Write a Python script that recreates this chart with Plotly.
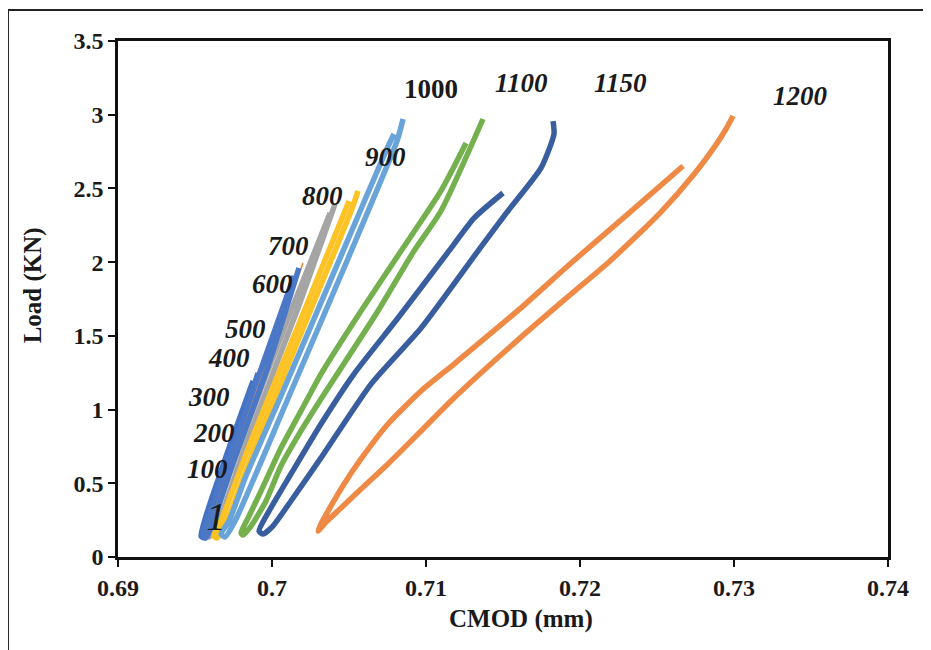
import plotly.graph_objects as go

# ---- data ----
# each loop: unloading (inner) branch from its top end down to the tip, then loading (outer) branch up to the peak
blue_short_x = [0.69877, 0.69669, 0.69539, 0.69565, 0.69708, 0.69909]
blue_short_y = [1.194, 0.583, 0.142, 0.129, 0.583, 1.248]

orange_thin_x = [0.69565, 0.69877, 0.70201]
orange_thin_y = [0.142, 1.058, 1.994]

blue_x = [0.70143, 0.69929, 0.69701, 0.69591, 0.69552, 0.69571, 0.69630, 0.69740, 0.69968, 0.70175]
blue_y = [1.906, 1.275, 0.617, 0.278, 0.156, 0.129, 0.278, 0.617, 1.275, 1.960]

gray_x = [0.70377, 0.70123, 0.69799, 0.69617, 0.69571, 0.69591, 0.69656, 0.69838, 0.70162, 0.70409]
gray_y = [2.333, 1.669, 0.787, 0.244, 0.156, 0.136, 0.244, 0.787, 1.669, 2.394]

yellow_x = [0.70500, 0.70188, 0.69864, 0.69682, 0.69623, 0.69643, 0.69721, 0.69903, 0.70227, 0.70526, 0.70558]
yellow_y = [2.415, 1.614, 0.787, 0.278, 0.142, 0.129, 0.278, 0.787, 1.614, 2.381, 2.483]

lblue_x = [0.70792, 0.70740, 0.70448, 0.70058, 0.69831, 0.69721, 0.69669, 0.69695, 0.69760, 0.70097, 0.70487, 0.70812, 0.70851]
lblue_y = [2.869, 2.754, 2.042, 1.092, 0.549, 0.244, 0.156, 0.136, 0.244, 1.058, 2.008, 2.822, 2.971]

green_x = [0.71260, 0.71097, 0.70838, 0.70578, 0.70318, 0.70188, 0.70058, 0.69929, 0.69851, 0.69799,
           0.69812, 0.69864, 0.69961, 0.70058, 0.70188, 0.70318, 0.70688, 0.70922, 0.71097, 0.71370]
green_y = [2.808, 2.483, 2.076, 1.669, 1.241, 0.990, 0.739, 0.448, 0.278, 0.163,
           0.149, 0.210, 0.380, 0.617, 0.855, 1.072, 1.669, 2.076, 2.347, 2.971]

dblue_x = [0.71500, 0.71312, 0.71149, 0.70818, 0.70532, 0.70318, 0.70123, 0.69981, 0.69916,
           0.69942, 0.70006, 0.70123, 0.70318, 0.70643, 0.70968, 0.71338, 0.71532, 0.71747, 0.71831, 0.71825]
dblue_y = [2.469, 2.299, 2.076, 1.621, 1.241, 0.902, 0.563, 0.312, 0.176,
           0.156, 0.210, 0.380, 0.672, 1.173, 1.553, 2.076, 2.347, 2.639, 2.869, 2.957]

orange_x = [0.72669, 0.72312, 0.71942, 0.71630, 0.71182, 0.70968, 0.70753, 0.70578, 0.70468, 0.70383, 0.70318, 0.70299,
            0.70351, 0.70448, 0.70578, 0.70753, 0.70968, 0.71175, 0.71610, 0.71935, 0.72195, 0.72519, 0.72747, 0.72877, 0.72948, 0.72994]
orange_y = [2.652, 2.327, 1.994, 1.702, 1.309, 1.126, 0.902, 0.665, 0.495, 0.346, 0.224, 0.176,
            0.237, 0.332, 0.461, 0.631, 0.855, 1.072, 1.485, 1.777, 2.008, 2.333, 2.605, 2.787, 2.903, 2.991]

cycle_labels = ["1", "100", "200", "300", "400", "500", "600", "700", "800", "900", "1000", "1100", "1150", "1200"]
label_x = [0.69636, 0.69578, 0.69623, 0.69591, 0.69721, 0.69831, 0.70006, 0.70110, 0.70331, 0.70734, 0.71032, 0.71617, 0.72266, 0.73435]
label_y = [0.278, 0.597, 0.841, 1.085, 1.350, 1.547, 1.852, 2.109, 2.449, 2.713, 3.174, 3.215, 3.215, 3.127]

x_ticks = [0.69, 0.7, 0.71, 0.72, 0.73, 0.74]
x_tick_text = ["0.69", "0.7", "0.71", "0.72", "0.73", "0.74"]
y_ticks = [0, 0.5, 1, 1.5, 2, 2.5, 3, 3.5]
y_tick_text = ["0", "0.5", "1", "1.5", "2", "2.5", "3", "3.5"]

series = [
    (blue_short_x, blue_short_y, "#4472C4", 5.5),
    (orange_thin_x, orange_thin_y, "#ED7D31", 1.5),
    (gray_x, gray_y, "#A5A5A5", 5.5),
    (blue_x, blue_y, "#4A77C6", 5.5),
    (yellow_x, yellow_y, "#FDC324", 5.5),
    (lblue_x, lblue_y, "#68A3D9", 5.5),
    (green_x, green_y, "#74B04E", 5.5),
    (dblue_x, dblue_y, "#395E9F", 5.5),
    (orange_x, orange_y, "#EE8A45", 5.5),
]

SERIF = "Liberation Serif, Times New Roman, serif"

fig = go.Figure()
for xs, ys, col, w in series:
    fig.add_trace(go.Scatter(x=xs, y=ys, mode="lines",
                             line=dict(color=col, width=w, shape="spline", smoothing=0.6),
                             hoverinfo="skip", showlegend=False))

for t, lx, ly in zip(cycle_labels, label_x, label_y):
    if t == "1":
        txt = "<i>1</i>"
        size = 40
    elif t == "1000":
        txt = "<b>1000</b>"
        size = 27
    else:
        txt = "<b><i>%s</i></b>" % t
        size = 27
    fig.add_annotation(x=lx, y=ly, xref="x", yref="y", text=txt, showarrow=False,
                       font=dict(family=SERIF, size=size, color="#1a1a1a"),
                       xanchor="center", yanchor="middle")

# axis titles
fig.add_annotation(x=0.523, y=-0.12, xref="paper", yref="paper", text="<b>CMOD (mm)</b>",
                   showarrow=False, font=dict(family=SERIF, size=25, color="#1a1a1a"),
                   xanchor="center", yanchor="middle")
fig.add_annotation(x=-0.110, y=0.527, xref="paper", yref="paper", text="<b>Load (KN)</b>",
                   showarrow=False, textangle=-90, font=dict(family=SERIF, size=25, color="#1a1a1a"),
                   xanchor="center", yanchor="middle")

# outer frame (left and top edges)
fig.add_shape(type="line", xref="paper", yref="paper", x0=-0.1429, x1=-0.1429, y0=1.060, y1=-0.25,
              line=dict(color="#222", width=2))
fig.add_shape(type="line", xref="paper", yref="paper", x0=-0.1429, x1=1.08, y0=1.060, y1=1.060,
              line=dict(color="#222", width=2))

axis_common = dict(showgrid=False, zeroline=False, showline=True, linecolor="#111", linewidth=2.5,
                   mirror=True, ticks="outside", ticklen=7, tickwidth=2, tickcolor="#111",
                   tickfont=dict(family=SERIF, size=24, color="#1a1a1a"))

fig.update_xaxes(range=[0.69, 0.74], tickvals=x_ticks, ticktext=["<b>%s</b>" % s for s in x_tick_text],
                 **axis_common)
fig.update_yaxes(range=[0, 3.5], tickvals=y_ticks, ticktext=["<b>%s</b>" % s for s in y_tick_text],
                 **axis_common)

fig.update_layout(width=931, height=650, margin=dict(l=110, r=51, t=33, b=101),
                  plot_bgcolor="white", paper_bgcolor="white", showlegend=False)

fig.write_html("out.html")
